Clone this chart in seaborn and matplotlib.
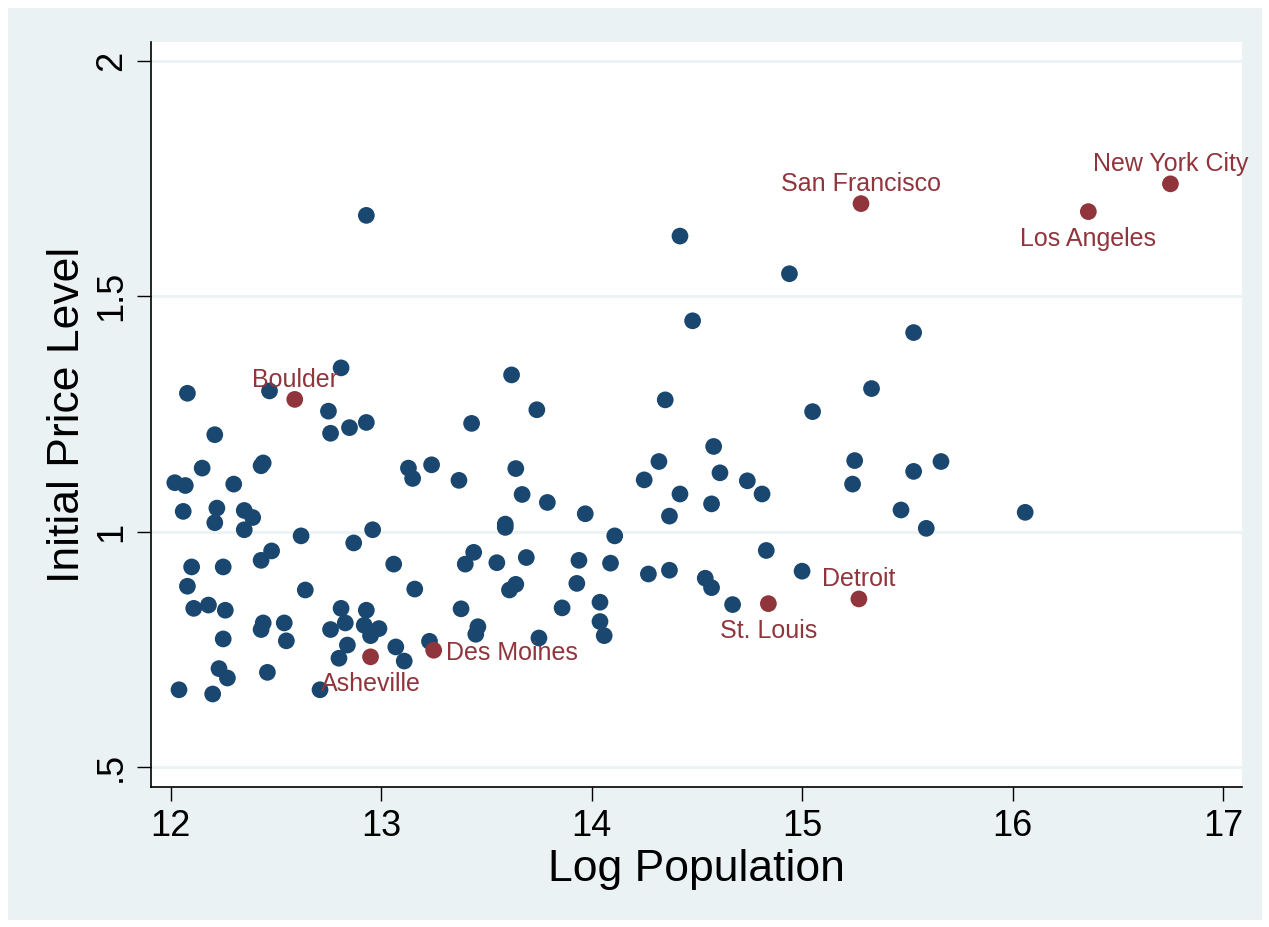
import matplotlib
matplotlib.use("Agg")
import matplotlib.pyplot as plt
import seaborn as sns
import pandas as pd
from matplotlib.patches import Rectangle

# other cities: log population / initial price level
log_pop = [
    12.81, 12.08, 12.47, 12.75, 12.76, 12.85, 12.93, 12.21, 12.44, 12.43,
    12.15, 12.02, 12.07, 12.30, 13.13, 13.15, 13.24, 12.06, 12.22, 12.21,
    12.35, 12.39, 12.35, 12.62, 12.87, 12.96, 12.48, 12.43, 12.10, 12.25,
    13.06, 12.08, 12.64, 13.16, 12.11, 12.18, 12.26, 12.81, 12.93, 12.44,
    12.43, 12.54, 12.83, 12.76, 12.92, 12.99, 12.95, 12.25, 12.55, 12.84,
    13.07, 13.23, 12.80, 13.11, 12.23, 12.27, 12.46, 12.04, 12.20, 12.71,
    12.93,
    13.62, 13.74, 13.43, 13.64, 13.37, 13.67, 13.79, 13.97, 13.59, 13.59,
    14.11, 14.35, 14.58, 14.32, 14.61, 14.25, 14.42, 14.57, 14.37, 13.44,
    13.40, 13.55, 13.69, 13.94, 14.09, 14.27, 14.37, 14.54, 14.57, 13.64,
    13.61, 13.93, 13.38, 13.86, 14.04, 14.67, 13.46, 13.45, 13.75, 14.04,
    14.06,
    14.42, 14.94, 14.48, 15.53, 15.33, 15.05, 14.74, 14.81, 15.25, 15.53,
    15.66, 15.24, 15.47, 15.59, 16.06, 14.83, 15.00,
]
price = [
    1.348, 1.294, 1.299, 1.256, 1.209, 1.221, 1.232, 1.206, 1.146, 1.140,
    1.135, 1.104, 1.098, 1.101, 1.135, 1.113, 1.142, 1.043, 1.050, 1.019,
    1.045, 1.030, 1.004, 0.991, 0.976, 1.004, 0.959, 0.939, 0.925, 0.925,
    0.931, 0.884, 0.876, 0.878, 0.837, 0.844, 0.833, 0.837, 0.833, 0.806,
    0.792, 0.806, 0.806, 0.792, 0.801, 0.794, 0.779, 0.772, 0.768, 0.759,
    0.755, 0.767, 0.731, 0.725, 0.709, 0.689, 0.701, 0.664, 0.655, 0.664,
    1.672,
    1.333, 1.259, 1.230, 1.134, 1.109, 1.079, 1.062, 1.038, 1.016, 1.009,
    0.991, 1.280, 1.181, 1.149, 1.125, 1.110, 1.080, 1.059, 1.033, 0.956,
    0.931, 0.934, 0.945, 0.939, 0.933, 0.910, 0.918, 0.901, 0.881, 0.888,
    0.876, 0.890, 0.836, 0.838, 0.850, 0.845, 0.798, 0.782, 0.774, 0.809,
    0.779,
    1.628, 1.548, 1.448, 1.423, 1.304, 1.255, 1.108, 1.080, 1.151, 1.128,
    1.149, 1.101, 1.046, 1.007, 1.041, 0.960, 0.916,
]

# labelled cities
cities = ["New York City", "Los Angeles", "San Francisco", "Boulder",
          "Detroit", "St. Louis", "Asheville", "Des Moines"]
city_pop = [16.75, 16.36, 15.28, 12.59, 15.27, 14.84, 12.95, 13.25]
city_price = [1.739, 1.680, 1.697, 1.281, 0.857, 0.847, 0.734, 0.748]
# label position: above / below / right
city_pos = ["above", "below", "above", "above", "above", "below", "below", "right"]

navy = "#1a476f"
maroon = "#90353b"
bg = "#eaf2f3"

df = pd.DataFrame({"pop": log_pop + city_pop,
                   "price": price + city_price,
                   "group": ["other"] * len(log_pop) + ["named"] * len(city_pop)})

sns.set_style("ticks")
plt.rcParams["font.family"] = ["Liberation Sans", "DejaVu Sans"]
plt.rcParams["text.color"] = "black"
plt.rcParams["axes.labelcolor"] = "black"
plt.rcParams["xtick.color"] = "black"
plt.rcParams["ytick.color"] = "black"

fig = plt.figure(figsize=(12.69, 9.27), dpi=100, facecolor="white")
fig.patches.append(Rectangle((8 / 1269, 7 / 927), 1254 / 1269, 912 / 927,
                             transform=fig.transFigure, facecolor=bg,
                             edgecolor="none", zorder=-10))
ax = fig.add_axes([151 / 1269, 1 - 787 / 927, 1091 / 1269, 745 / 927])
ax.set_facecolor("white")

sns.scatterplot(data=df, x="pop", y="price", hue="group",
                palette={"other": navy, "named": maroon},
                s=145, linewidth=0, legend=False, ax=ax, zorder=3)

for name, xv, yv, pos in zip(cities, city_pop, city_price, city_pos):
    if pos == "above":
        kw = dict(xytext=(0, 9), ha="center", va="baseline")
    elif pos == "below":
        kw = dict(xytext=(0, -11), ha="center", va="top")
    else:
        kw = dict(xytext=(9, 0), ha="left", va="center_baseline")
    ax.annotate(name, (xv, yv), textcoords="offset points", color=maroon,
                fontsize=18, zorder=4, **kw)

ax.set_xlim(11.907, 17.09)
ax.set_ylim(0.4574, 2.0404)
ax.set_xticks([12, 13, 14, 15, 16, 17])
ax.set_yticks([0.5, 1, 1.5, 2])
ax.set_yticklabels([".5", "1", "1.5", "2"])
ax.grid(axis="y", color=bg, linewidth=2, zorder=0)
ax.set_axisbelow(True)

for side in ["top", "right"]:
    ax.spines[side].set_visible(False)
for side in ["left", "bottom"]:
    ax.spines[side].set_color("black")
    ax.spines[side].set_linewidth(1.2)

ax.tick_params(axis="both", length=10, width=1, color="black",
               labelcolor="black", labelsize=26, pad=6)
ax.tick_params(axis="y", labelrotation=90)
for lab in ax.get_yticklabels():
    lab.set_va("center")

ax.set_xlabel("Log Population", fontsize=32, color="black")
ax.set_ylabel("Initial Price Level", fontsize=32, color="black")
ax.xaxis.set_label_coords(0.5, -0.083)
ax.yaxis.set_label_coords(-0.058, 0.5)

fig.savefig("out.png", dpi=100, facecolor="white")
